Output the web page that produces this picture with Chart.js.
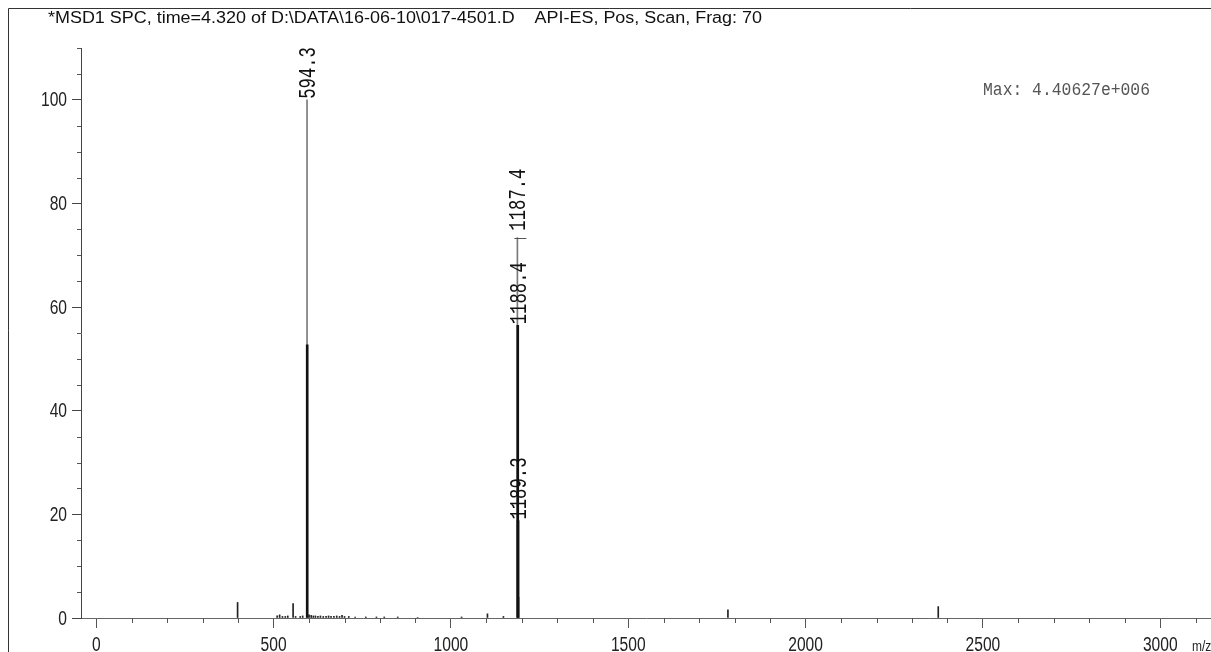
<!DOCTYPE html>
<html>
<head>
<meta charset="utf-8">
<script src="https://cdn.jsdelivr.net/npm/chart.js@4.4.1/dist/chart.umd.min.js"></script>
<style>
  html, body { margin: 0; padding: 0; background: #fff; }
  #wrap { position: relative; width: 1211px; height: 652px; }
</style>
</head>
<body>
<div id="wrap"><canvas id="spectrum" width="1211" height="652"></canvas></div>
<script>
// scan header, scale text and axis unit
const titleText = '*MSD1 SPC, time=4.320 of D:\\DATA\\16-06-10\\017-4501.D    API-ES, Pos, Scan, Frag: 70';
const maxText = 'Max: 4.40627e+006';
const unitText = 'm/z';

// major tick values
const xTicks = [0, 500, 1000, 1500, 2000, 2500, 3000];
const yTicks = [0, 20, 40, 60, 80, 100];

// strong ions, solid black sticks (m/z, % abundance)
const mainMz = [594.8, 1188.4, 1189.3];
const mainAbund = [52.7, 56.5, 18.8];

// apex of the base peak and of 1187.4, hairline sticks
const apexMz = [594.3, 1187.4];
const apexAbund = [100, 73.4];

// isotope shoulder at the foot of the 1188 cluster
const shoulderMz = [1190.3];
const shoulderAbund = [4.0];

// small ions and baseline noise
const minorMz = [398.5, 510, 517, 525, 533, 540, 555, 562, 575, 582, 600, 606, 612, 618, 625, 632, 640, 648,
  655, 662, 670, 678, 686, 693, 700, 712, 730, 760, 790, 812, 850, 906, 1030, 1103, 1148, 1781, 2374];
const minorAbund = [3.0, 0.4, 0.6, 0.3, 0.3, 0.4, 2.8, 0.3, 0.3, 0.4, 0.6, 0.5, 0.4, 0.4, 0.3, 0.4, 0.3, 0.3,
  0.4, 0.3, 0.3, 0.4, 0.3, 0.5, 0.3, 0.3, 0.2, 0.2, 0.2, 0.2, 0.2, 0.1, 0.2, 0.8, 0.3, 1.6, 2.2];

// peaks that carry an m/z annotation
const labelMz = [594.3, 1187.4, 1188.4, 1189.3];

const toPoints = (mz, ab) => mz.map((m, i) => ({ x: m, y: ab[i] }));

// abundance lookup so each annotation sits on its own stick
const abundOf = {};
[[mainMz, mainAbund], [apexMz, apexAbund], [shoulderMz, shoulderAbund], [minorMz, minorAbund]]
  .forEach(([mz, ab]) => mz.forEach((m, i) => { abundOf[m] = ab[i]; }));

// extra lift for an annotation pushed off its peak, with a leader dash
const labelLift = { 1187.4: 6 };

function drawScaledText(ctx, text, x, y, sx, align, baseline) {
  ctx.save();
  ctx.translate(x, y);
  ctx.scale(sx, 1);
  ctx.textAlign = align;
  ctx.textBaseline = baseline;
  ctx.fillText(text, 0, 0);
  ctx.restore();
}

const decor = {
  id: 'decor',
  beforeDraw(chart) {
    const ctx = chart.ctx;
    ctx.save();
    ctx.fillStyle = '#fff';
    ctx.fillRect(0, 0, chart.width, chart.height);
    // window frame
    ctx.strokeStyle = '#333';
    ctx.lineWidth = 1;
    ctx.beginPath();
    ctx.moveTo(8.5, chart.height);
    ctx.lineTo(8.5, 8.5);
    ctx.lineTo(chart.width, 8.5);
    ctx.stroke();
    // header
    ctx.fillStyle = '#111';
    ctx.font = '16px "Liberation Sans", Arial, sans-serif';
    const w = ctx.measureText(titleText).width;
    drawScaledText(ctx, titleText, 48, 23, 714 / w, 'left', 'alphabetic');
    // max intensity
    ctx.fillStyle = '#555';
    ctx.font = '19px "Liberation Mono", monospace';
    const wm = ctx.measureText(maxText).width;
    drawScaledText(ctx, maxText, 983, 95, 167 / wm, 'left', 'alphabetic');
    ctx.restore();
  },
  afterDraw(chart) {
    const ctx = chart.ctx;
    const xs = chart.scales.x, ys = chart.scales.y;
    const left = chart.chartArea.left, bottom = chart.chartArea.bottom;
    ctx.save();
    ctx.strokeStyle = '#555';
    ctx.lineWidth = 1;
    ctx.beginPath();
    // minor ticks every 5 % and every 100 m/z
    for (let v = 5; v <= ys.max; v += 5) {
      if (yTicks.includes(v)) continue;
      const py = Math.round(ys.getPixelForValue(v)) + 0.5;
      ctx.moveTo(left - 4, py);
      ctx.lineTo(left, py);
    }
    for (let v = 100; v <= xs.max; v += 100) {
      if (xTicks.includes(v)) continue;
      const px = Math.round(xs.getPixelForValue(v)) + 0.5;
      ctx.moveTo(px, bottom);
      ctx.lineTo(px, bottom + 5);
    }
    ctx.stroke();

    // tick labels
    ctx.fillStyle = '#222';
    ctx.font = '20px "Liberation Sans", Arial, sans-serif';
    ys.ticks.forEach(t => {
      drawScaledText(ctx, String(t.value), left - 14, ys.getPixelForValue(t.value) + 1, 0.78, 'right', 'middle');
    });
    xs.ticks.forEach(t => {
      drawScaledText(ctx, String(t.value), xs.getPixelForValue(t.value), 651, 0.78, 'center', 'alphabetic');
    });
    ctx.font = '15px "Liberation Sans", Arial, sans-serif';
    drawScaledText(ctx, unitText, 1192, 651, 0.8, 'left', 'alphabetic');

    // rotated peak annotations
    ctx.font = '23px "Liberation Mono", monospace';
    ctx.fillStyle = '#111';
    labelMz.forEach(m => {
      const px = xs.getPixelForValue(m);
      const py = ys.getPixelForValue(abundOf[m]);
      const lift = labelLift[m] || 0;
      if (lift) {
        ctx.beginPath();
        ctx.moveTo(px - 3, Math.round(py) + 0.5);
        ctx.lineTo(px + 9, Math.round(py) + 0.5);
        ctx.stroke();
      }
      ctx.save();
      ctx.translate(px + 2, py - 1 - lift);
      ctx.rotate(-Math.PI / 2);
      ctx.scale(0.75, 1);
      ctx.textAlign = 'left';
      ctx.textBaseline = 'middle';
      ctx.fillText(m.toFixed(1), 0, 0);
      ctx.restore();
    });
    ctx.restore();
  }
};

new Chart(document.getElementById('spectrum'), {
  type: 'bar',
  data: {
    datasets: [
      { data: toPoints(mainMz, mainAbund), backgroundColor: '#111', barThickness: 2, grouped: false },
      { data: toPoints(minorMz, minorAbund), backgroundColor: '#222', barThickness: 1, grouped: false },
      { data: toPoints(apexMz, apexAbund), backgroundColor: '#7a7a7a', barThickness: 1, grouped: false },
      { data: toPoints(shoulderMz, shoulderAbund), backgroundColor: '#9a9a9a', barThickness: 2, grouped: false }
    ]
  },
  options: {
    responsive: false,
    devicePixelRatio: 1,
    animation: false,
    layout: { padding: { top: 48, left: 0, right: 0, bottom: 0 } },
    plugins: { legend: { display: false }, tooltip: { enabled: false } },
    scales: {
      x: {
        type: 'linear', min: -43, max: 3143, offset: false,
        afterBuildTicks: s => { s.ticks = xTicks.map(v => ({ value: v })); },
        afterFit: s => { s.height = 34; },
        ticks: { display: false },
        grid: { display: true, drawOnChartArea: false, drawTicks: true, tickLength: 10, color: '#555', offset: false },
        border: { display: true, color: '#666', width: 1 }
      },
      y: {
        type: 'linear', min: 0, max: 110,
        afterBuildTicks: s => { s.ticks = yTicks.map(v => ({ value: v })); },
        afterFit: s => { s.width = 81; },
        ticks: { display: false },
        grid: { display: true, drawOnChartArea: false, drawTicks: true, tickLength: 9, color: '#444' },
        border: { display: true, color: '#444', width: 1 }
      }
    }
  },
  plugins: [decor]
});
</script>
</body>
</html>
